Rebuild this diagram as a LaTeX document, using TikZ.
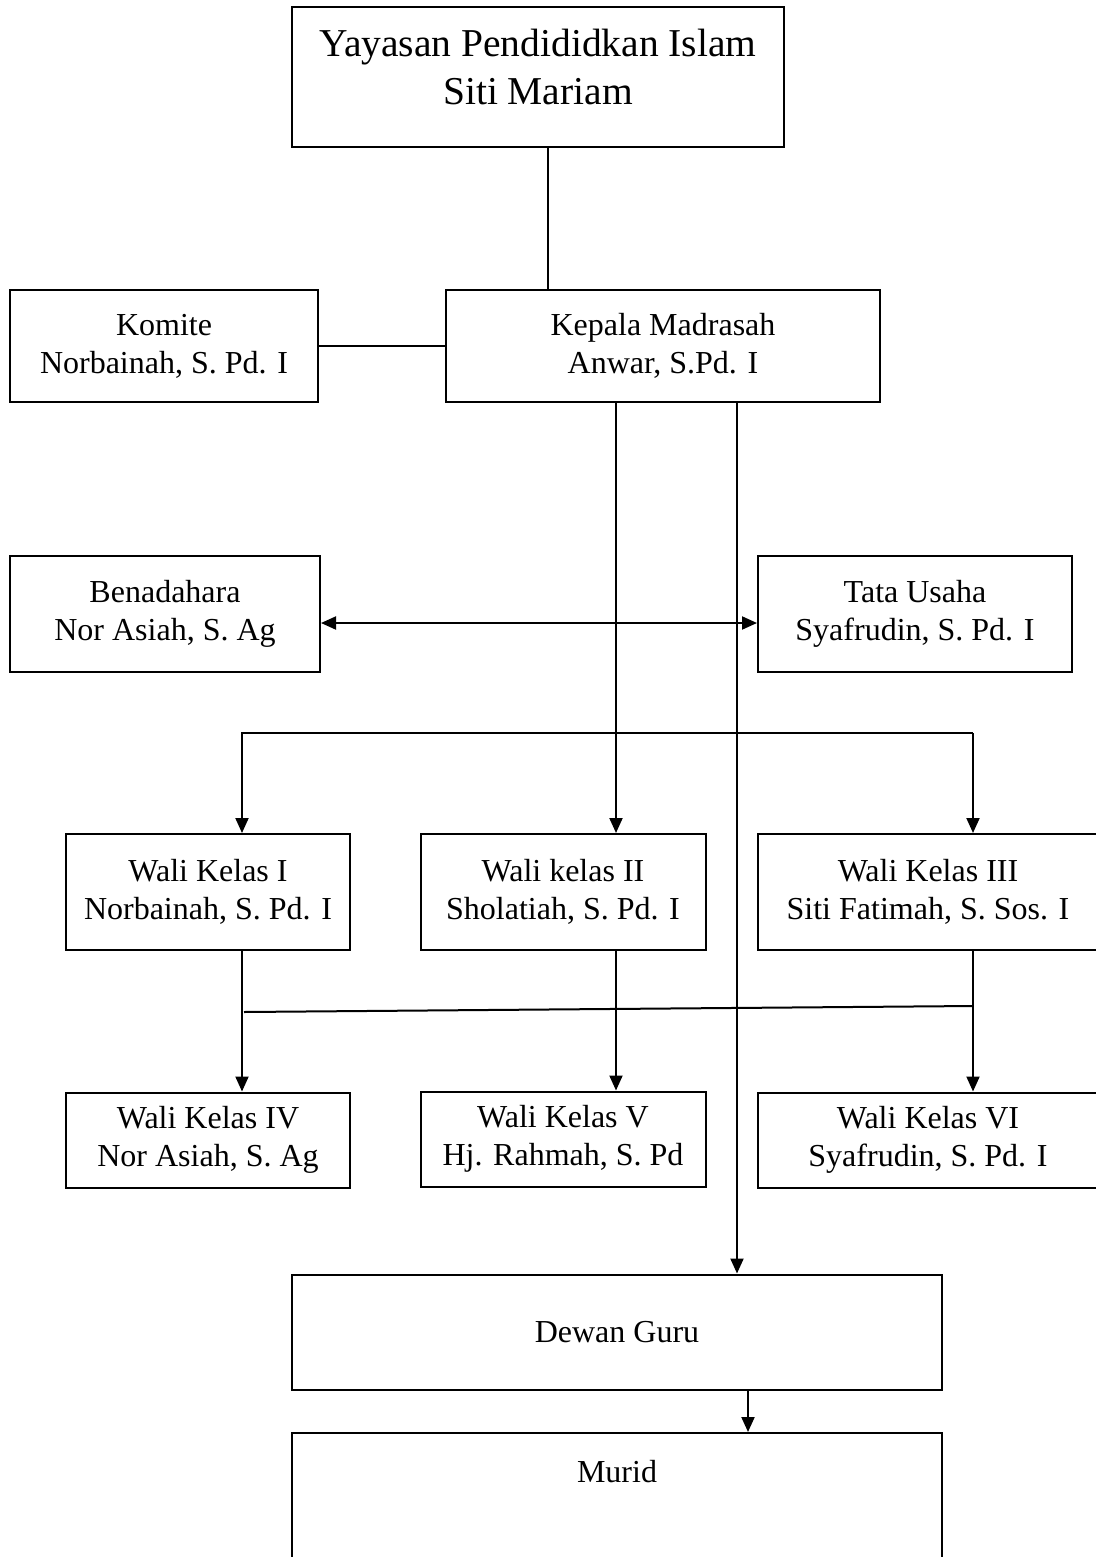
\documentclass[tikz,border=0pt]{standalone}
\usepackage{fontspec}
\setmainfont{Liberation Serif}
\usetikzlibrary{arrows.meta}

\begin{document}
\begin{tikzpicture}[
		x=1pt, y=-1pt,
		line width=2pt,
		every node/.style={align=center, font=\fontsize{32}{38}\selectfont},
		box/.style={draw, rectangle, inner sep=0pt},
		arr/.style={-{Triangle[length=15pt,width=13pt]}},
		dbl/.style={{Triangle[length=15pt,width=13pt]}-{Triangle[length=15pt,width=13pt]}}
		]
		\useasboundingbox (0,0) rectangle (1095,1557);
		\node[box, minimum width=492, minimum height=140, font=\fontsize{39.5}{48}\selectfont] (yayasan) at (538,77) {Yayasan Pendididkan Islam\\Siti Mariam\\[-28pt]\mbox{}};
		\node[box, minimum width=308, minimum height=112] (komite) at (164,346) {Komite\\Norbainah, S. Pd. I};
		\node[box, minimum width=434, minimum height=112] (kepala) at (663,346) {Kepala Madrasah\\Anwar, S.Pd. I};
		\node[box, minimum width=310, minimum height=116] (bendahara) at (165,614) {Benadahara\\Nor Asiah, S. Ag};
		\node[box, minimum width=314, minimum height=116] (tatausaha) at (915,614) {Tata Usaha\\Syafrudin, S. Pd. I};
		\node[box, minimum width=284, minimum height=116] (wali1) at (208,892) {Wali Kelas I\\Norbainah, S. Pd. I};
		\node[box, minimum width=285, minimum height=116] (wali2) at (563,892) {Wali kelas II\\Sholatiah, S. Pd. I};
		\node[box, minimum width=340, minimum height=116] (wali3) at (928,892) {Wali Kelas III\\Siti Fatimah, S. Sos. I};
		\node[box, minimum width=284, minimum height=95] (wali4) at (208,1140) {Wali Kelas IV\\Nor Asiah, S. Ag};
		\node[box, minimum width=285, minimum height=95] (wali5) at (563,1139) {Wali Kelas V\\Hj. Rahmah, S. Pd};
		\node[box, minimum width=340, minimum height=95] (wali6) at (928,1140) {Wali Kelas VI\\Syafrudin, S. Pd. I};
		\node[box, minimum width=650, minimum height=115] (dewan) at (617,1332) {Dewan Guru};
		\node[box, minimum width=650, minimum height=200] (muridbox) at (617,1533) {};
		\node (murid) at (617,1472) {Murid};

		\coordinate (xa) at (548,0);
		\coordinate (xb) at (616,0);
		\coordinate (xc) at (737,0);
		\coordinate (xd) at (748,0);
		\coordinate (xl) at (242,0);
		\coordinate (xr) at (973,0);
		\coordinate (ya) at (0,623);
		\coordinate (yb) at (0,733);
		\coordinate (yl) at (244,1012);
		\coordinate (yr) at (973,1006);

		\draw (yayasan.south -| xa) -- (kepala.north -| xa);
		\draw (komite.east) -- (kepala.west);
		\draw[arr] (kepala.south -| xb) -- (wali2.north -| xb);
		\draw[arr] (kepala.south -| xc) -- (dewan.north -| xc);
		\draw[dbl] (bendahara.east |- ya) -- (tatausaha.west |- ya);
		\draw[arr] (xr |- yb) -- (xl |- yb) -- (wali1.north -| xl);
		\draw[arr] (xr |- yb) -- (wali3.north -| xr);
		\draw[arr] (wali1.south -| xl) -- (wali4.north -| xl);
		\draw (yl) -- (yr);
		\draw[arr] (wali2.south -| xb) -- (wali5.north -| xb);
		\draw[arr] (wali3.south -| xr) -- (wali6.north -| xr);
		\draw[arr] (dewan.south -| xd) -- (muridbox.north -| xd);
\end{tikzpicture}
\end{document}
